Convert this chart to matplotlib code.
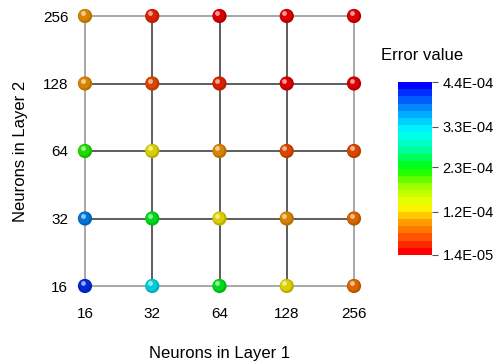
import numpy as np
import matplotlib.pyplot as plt
from matplotlib.colors import LinearSegmentedColormap, BoundaryNorm

plt.rcParams['font.family'] = ['Liberation Sans', 'DejaVu Sans']

layer1 = ['16', '32', '64', '128', '256']
layer2 = ['16', '32', '64', '128', '256']

# error values, rows = layer 2 (16..256), columns = layer 1 (16..256)
err_l2_16 = [4.2e-4, 3.2e-4, 2.3e-4, 1.3e-4, 7.0e-5]
err_l2_32 = [3.8e-4, 2.4e-4, 1.3e-4, 1.0e-4, 7.0e-5]
err_l2_64 = [2.2e-4, 1.25e-4, 9.0e-5, 5.0e-5, 5.0e-5]
err_l2_128 = [9.5e-5, 6.5e-5, 4.5e-5, 2.0e-5, 2.0e-5]
err_l2_256 = [9.5e-5, 4.5e-5, 2.0e-5, 2.0e-5, 1.8e-5]

vmin, vmax = 1.4e-5, 4.4e-4
cbar_ticks = [1.4e-5, 1.2e-4, 2.3e-4, 3.3e-4, 4.4e-4]
cbar_labels = ['1.4E-05', '1.2E-04', '2.3E-04', '3.3E-04', '4.4E-04']

cmap = LinearSegmentedColormap.from_list('err', [
    (0.0, '#ff0000'), (0.1, '#ff6000'), (0.17, '#ff9900'), (0.22, '#ffcc00'),
    (0.27, '#ffff00'), (0.38, '#aaff00'), (0.5, '#00ff00'), (0.62, '#00ffaa'),
    (0.72, '#00ffff'), (0.85, '#0099ff'), (1.0, '#0000ff')])
levels = np.linspace(vmin, vmax, 25)
norm = BoundaryNorm(levels, cmap.N)

err = np.array([err_l2_16, err_l2_32, err_l2_64, err_l2_128, err_l2_256])

fig = plt.figure(figsize=(5.04, 3.63), dpi=100)
ax = fig.add_axes([85/504, 77/363, 269/504, 270/363])
ax.set_xlim(0, 4)
ax.set_ylim(0, 4)

n = len(layer1)
for i in range(n):
    c = '#a0a0a0' if i in (0, n - 1) else '#505050'
    ax.plot([i, i], [0, n - 1], color=c, lw=1.3, zorder=1, clip_on=False)
    ax.plot([0, n - 1], [i, i], color=c, lw=1.3, zorder=1, clip_on=False)

# spheres: dark rim, body, highlight
xx, yy = np.meshgrid(np.arange(n), np.arange(n))
cols = cmap(norm(err.ravel()))
shade = cols.copy()
shade[:, :3] *= 0.72
ax.scatter(xx.ravel(), yy.ravel(), s=105, c=shade, zorder=3, clip_on=False, linewidths=0)
lighter = cols.copy()
lighter[:, :3] = lighter[:, :3] * 0.85
ax.scatter(xx.ravel() - 0.012, yy.ravel() + 0.012, s=68, c=lighter, zorder=4, clip_on=False, linewidths=0)
ax.scatter(xx.ravel() - 0.035, yy.ravel() + 0.04, s=12, c='white', alpha=0.6, zorder=5, clip_on=False, linewidths=0)

for s in ax.spines.values():
    s.set_visible(False)
ax.set_xticks(range(n))
ax.set_xticklabels(layer1)
ax.set_yticks(range(n))
ax.set_yticklabels(layer2)
ax.tick_params(length=0, labelsize=11, pad=15)
ax.tick_params(axis='y', pad=12)
ax.set_xlabel('Neurons in Layer 1', fontsize=12, labelpad=18)
ax.set_ylabel('Neurons in Layer 2', fontsize=12, labelpad=11)

cax = fig.add_axes([398/504, 108/363, 34/504, 173/363])
sm = plt.cm.ScalarMappable(norm=norm, cmap=cmap)
cb = fig.colorbar(sm, cax=cax, ticks=cbar_ticks, boundaries=levels)
cb.minorticks_off()
cb.outline.set_visible(False)
cb.ax.set_yticklabels(cbar_labels)
cb.ax.tick_params(labelsize=10.5, length=4, width=0.8, color='#555555')
fig.text(422/504, 1 - 55/363, 'Error value', ha='center', va='center', fontsize=12)

fig.savefig('out.png', dpi=100)
